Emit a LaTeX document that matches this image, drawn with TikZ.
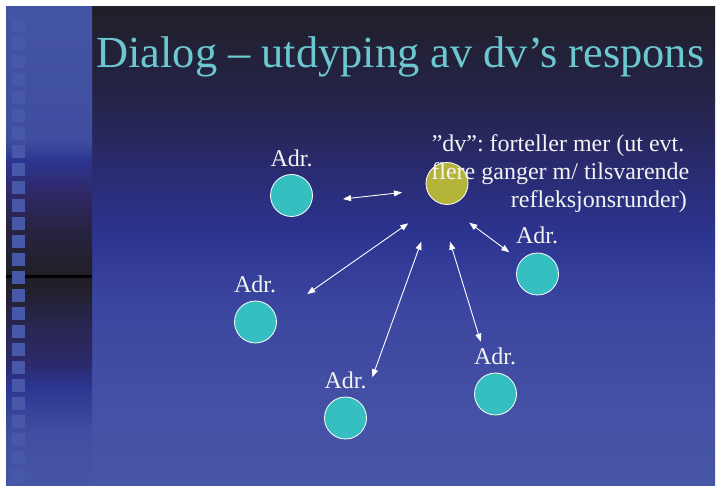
\documentclass[tikz,border=0pt]{standalone}
\usepackage{fontspec}
\setmainfont{Liberation Serif}
\usetikzlibrary{arrows.meta}
\frenchspacing
\definecolor{m1}{HTML}{201F28}
\definecolor{m2}{HTML}{25244A}
\definecolor{m3}{HTML}{2A2B70}
\definecolor{m4}{HTML}{2C3490}
\definecolor{m5}{HTML}{3A45A0}
\definecolor{m6}{HTML}{4450A4}
\definecolor{m7}{HTML}{4856A6}
\definecolor{s1}{HTML}{4454A4}
\definecolor{s2}{HTML}{3F4EA0}
\definecolor{s3}{HTML}{2C3590}
\definecolor{s4}{HTML}{30296B}
\definecolor{s5}{HTML}{262340}
\definecolor{s6}{HTML}{201F26}
\definecolor{s7}{HTML}{211F28}
\definecolor{s8}{HTML}{282650}
\definecolor{s9}{HTML}{2D2A6E}
\definecolor{s10}{HTML}{2B3590}
\definecolor{s11}{HTML}{3F4EA0}
\definecolor{s12}{HTML}{4655A5}
\definecolor{sqc}{HTML}{4858A8}
\definecolor{titlec}{RGB}{108,200,208}
\definecolor{tealc}{HTML}{36BFC0}
\definecolor{olivec}{HTML}{B4B43A}
\definecolor{txtc}{HTML}{F4F4F4}
\begin{document}
\begin{tikzpicture}[x=1pt,y=-1pt,
  adrcircle/.style={circle,inner sep=0pt,minimum size=42pt,draw=white,line width=0.8pt,fill=tealc},
  dvcircle/.style={circle,inner sep=0pt,minimum size=42pt,draw=white,line width=0.8pt,fill=olivec},
  lbl/.style={inner sep=0pt,text=txtc,font=\fontsize{24}{28}\selectfont},
  titletext/.style={inner sep=0pt,text=titlec,font=\fontsize{44.4}{50}\selectfont},
  link/.style={draw=white,line width=0.9pt,{Triangle[length=8pt,width=6pt]}-{Triangle[length=8pt,width=6pt]}},
  sq/.style={fill=sqc}]
\useasboundingbox (0,0) rectangle (716,486);
\fill[white] (0,0) rectangle (716,486);
% main area gradient
\foreach \ya/\yb/\ca/\cb in {7/100/m1/m2,100/170/m2/m3,170/235/m3/m4,235/300/m4/m5,300/400/m5/m6,400/486/m6/m7}
  \shade[top color=\ca,bottom color=\cb] (92,\ya) rectangle (715,\yb+0.6);
% left strip gradient
\foreach \ya/\yb/\ca/\cb in {7/140/s1/s2,140/160/s2/s3,160/190/s3/s4,190/230/s4/s5,230/275/s5/s6,277/285/s6/s7,285/325/s7/s8,325/365/s8/s9,365/385/s9/s10,385/430/s10/s11,430/486/s11/s12}
  \shade[top color=\ca,bottom color=\cb] (6,\ya) rectangle (92,\yb+0.6);
\fill[black] (6,275) rectangle (92,277.7);
% squares
\foreach \k in {0,...,25}
  \fill[sq] (12,19+18*\k) rectangle ++(13,13);
% title
\node[titletext,anchor=base west] (title) at (96.3,68) {Dialog – utdyping av dv’s respons};
% circles
\node[dvcircle] (dv) at (447,183.5) {};
\node[adrcircle] (c1) at (291.5,195.5) {};
\node[adrcircle] (c2) at (537.5,274) {};
\node[adrcircle] (c3) at (255.5,322) {};
\node[adrcircle] (c4) at (345.5,418) {};
\node[adrcircle] (c5) at (495.5,394) {};
% labels
\node[lbl,anchor=base] (l1) at (291.5,166.7) {Adr.};
\node[lbl,anchor=base] (l2) at (537,244) {Adr.};
\node[lbl,anchor=base] (l3) at (255,292.3) {Adr.};
\node[lbl,anchor=base] (l4) at (345.5,388.3) {Adr.};
\node[lbl,anchor=base] (l5) at (495,364.3) {Adr.};
% dv text
\node[lbl,anchor=base east] (t1) at (684.5,151.7) {”dv”: forteller mer (ut evt.};
\node[lbl,anchor=base east] (t2) at (689.5,180) {flere ganger m/ tilsvarende};
\node[lbl,anchor=base east] (t3) at (687,207.7) {refleksjonsrunder)};
% arrow ends
\coordinate (a1s) at (343,199);
\coordinate (a1e) at (402,192.5);
\coordinate (a2s) at (307.3,294);
\coordinate (a2e) at (408.3,223.3);
\coordinate (a3s) at (372.3,377.3);
\coordinate (a3e) at (421.3,241.7);
\coordinate (a4s) at (450,241.7);
\coordinate (a4e) at (480.7,341.7);
\coordinate (a5s) at (469.3,222.7);
\coordinate (a5e) at (509.3,252.3);
\draw[link] (a1s) -- (a1e);
\draw[link] (a2s) -- (a2e);
\draw[link] (a3s) -- (a3e);
\draw[link] (a4s) -- (a4e);
\draw[link] (a5s) -- (a5e);
\end{tikzpicture}
\end{document}
